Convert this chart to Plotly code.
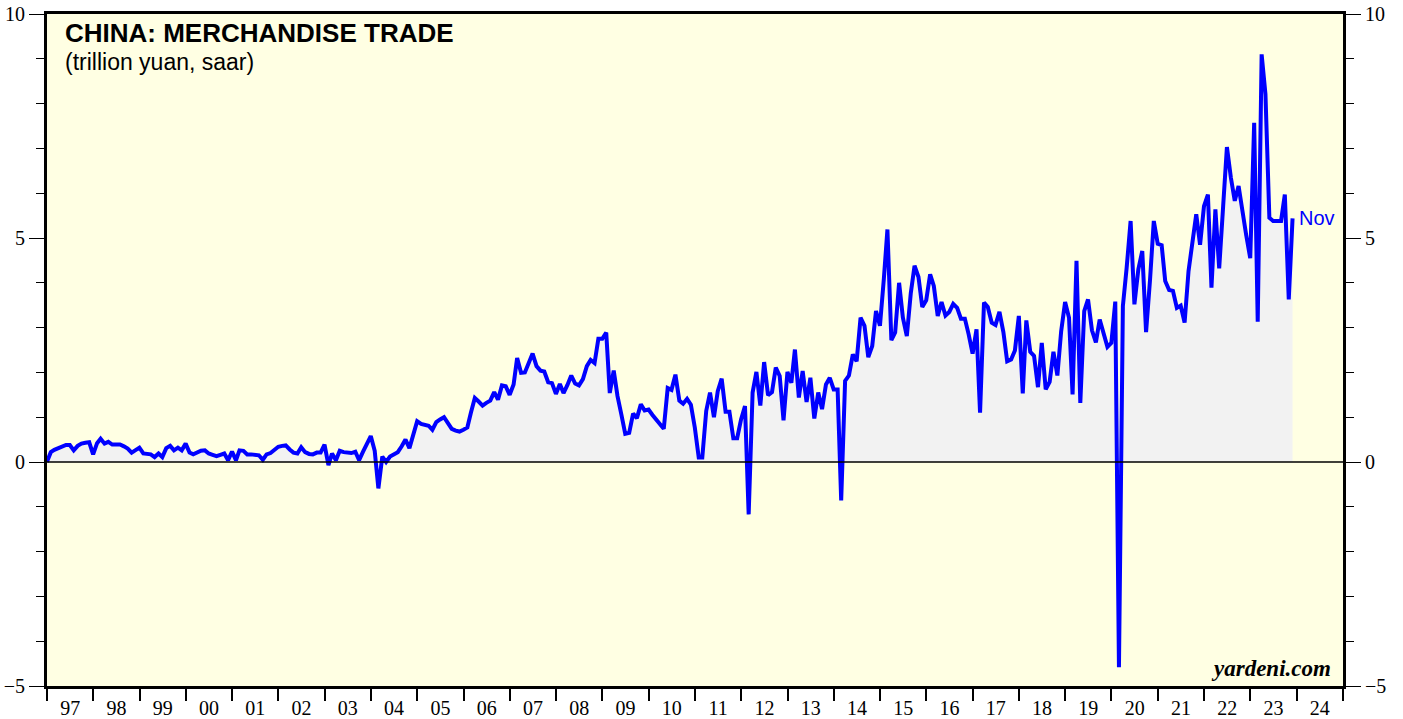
import pandas as pd
import plotly.graph_objects as go

# Monthly values (trillion yuan, saar), month-end dates Dec 1996 .. Nov 2023
trade_1996 = [0.00]
trade_1997 = [0.22, 0.27, 0.30, 0.35, 0.38, 0.38, 0.26, 0.36, 0.41, 0.43, 0.44, 0.17]
trade_1998 = [0.42, 0.52, 0.41, 0.45, 0.39, 0.39, 0.39, 0.35, 0.30, 0.21, 0.26, 0.32]
trade_1999 = [0.19, 0.18, 0.17, 0.11, 0.19, 0.11, 0.31, 0.36, 0.26, 0.32, 0.26, 0.41]
trade_2000 = [0.21, 0.17, 0.22, 0.25, 0.26, 0.19, 0.16, 0.13, 0.16, 0.19, 0.04, 0.23]
trade_2001 = [0.04, 0.26, 0.25, 0.17, 0.17, 0.17, 0.15, 0.05, 0.17, 0.20, 0.27, 0.34]
trade_2002 = [0.36, 0.37, 0.28, 0.21, 0.19, 0.33, 0.22, 0.18, 0.17, 0.21, 0.21, 0.39]
trade_2003 = [-0.07, 0.19, 0.04, 0.25, 0.22, 0.21, 0.20, 0.23, 0.04, 0.23, 0.40, 0.58]
trade_2004 = [0.25, -0.59, 0.12, 0.00, 0.12, 0.17, 0.22, 0.35, 0.50, 0.31, 0.65, 0.91]
trade_2005 = [0.85, 0.82, 0.81, 0.72, 0.89, 0.95, 1.00, 0.87, 0.74, 0.70, 0.68, 0.72]
trade_2006 = [0.77, 1.10, 1.43, 1.35, 1.26, 1.32, 1.37, 1.56, 1.39, 1.71, 1.69, 1.50]
trade_2007 = [1.73, 2.32, 1.99, 2.00, 2.20, 2.42, 2.14, 2.04, 2.02, 1.78, 1.76, 1.52]
trade_2008 = [1.74, 1.54, 1.72, 1.93, 1.75, 1.71, 1.85, 2.14, 2.28, 2.21, 2.75, 2.75]
trade_2009 = [2.89, 1.54, 2.04, 1.47, 1.05, 0.63, 0.65, 1.08, 0.98, 1.29, 1.15, 1.17]
trade_2010 = [1.05, 0.95, 0.85, 0.74, 1.65, 1.61, 1.95, 1.37, 1.30, 1.41, 1.28, 0.77]
trade_2011 = [0.10, 0.10, 1.14, 1.55, 1.00, 1.58, 1.86, 1.12, 1.12, 0.53, 0.53, 0.95]
trade_2012 = [1.25, -1.17, 1.55, 2.01, 1.26, 2.23, 1.49, 1.56, 2.11, 1.92, 0.93, 2.01]
trade_2013 = [1.77, 2.51, 1.44, 2.03, 1.34, 1.88, 0.97, 1.55, 1.18, 1.73, 1.88, 1.62]
trade_2014 = [1.62, -0.86, 1.81, 1.93, 2.40, 2.25, 3.22, 3.04, 2.34, 2.59, 3.37, 3.04]
trade_2015 = [4.10, 5.19, 2.72, 2.89, 4.00, 3.22, 2.81, 3.76, 4.38, 4.13, 3.46, 3.61]
trade_2016 = [4.19, 3.93, 3.26, 3.57, 3.27, 3.35, 3.53, 3.44, 3.20, 3.20, 2.85, 2.42]
trade_2017 = [2.96, 1.10, 3.56, 3.46, 3.11, 3.06, 3.35, 2.90, 2.25, 2.29, 2.49, 3.26]
trade_2018 = [1.53, 3.16, 2.46, 2.37, 1.67, 2.66, 1.62, 1.79, 2.46, 1.93, 2.92, 3.57]
trade_2019 = [3.22, 1.51, 4.49, 1.32, 3.37, 3.63, 2.94, 2.67, 3.18, 2.85, 2.57, 2.66]
trade_2020 = [3.58, -4.58, 3.48, 4.34, 5.38, 3.52, 4.30, 4.71, 2.90, 4.06, 5.38, 4.87]
trade_2021 = [4.84, 4.04, 3.84, 3.82, 3.44, 3.49, 3.11, 4.26, 4.86, 5.53, 4.85, 5.71]
trade_2022 = [5.97, 3.89, 5.64, 4.32, 5.70, 7.03, 6.35, 5.83, 6.16, 5.53, 5.05, 4.55]
trade_2023 = [7.57, 3.13, 9.10, 8.21, 5.45, 5.38, 5.38, 5.38, 5.97, 3.63, 5.44]

yearly_lists = [trade_1996, trade_1997, trade_1998, trade_1999, trade_2000, trade_2001,
                trade_2002, trade_2003, trade_2004, trade_2005, trade_2006, trade_2007,
                trade_2008, trade_2009, trade_2010, trade_2011, trade_2012, trade_2013,
                trade_2014, trade_2015, trade_2016, trade_2017, trade_2018, trade_2019,
                trade_2020, trade_2021, trade_2022, trade_2023]
values = [v for lst in yearly_lists for v in lst]
dates = pd.date_range("1996-12-31", periods=len(values), freq="ME")

title_text = "<b>CHINA: MERCHANDISE TRADE</b>"
subtitle_text = "(trillion yuan, saar)"
last_label = "Nov"
source_text = "<b><i>yardeni.com</i></b>"

LINE_BLUE = "#0000FF"
BG = "#FFFFE3"
FILL = "#F2F2F2"
SERIF = "Liberation Serif, Times New Roman, serif"
SANS = "Liberation Sans, Arial, sans-serif"
X_RANGE = ["1997-01-01", "2025-01-01"]

fig = go.Figure()
fig.add_trace(go.Scatter(
    x=dates, y=values, mode="lines",
    line=dict(color=LINE_BLUE, width=4),
    fill="tozeroy", fillcolor=FILL,
    showlegend=False, hoverinfo="x+y",
))
fig.add_trace(go.Scatter(x=[], y=[], yaxis="y2", showlegend=False))
fig.add_trace(go.Scatter(x=[], y=[], xaxis="x2", showlegend=False))

yaxis_common = dict(
    range=[-5, 10], tickmode="linear", tick0=-5, dtick=5,
    ticks="outside", ticklen=15, tickwidth=1, tickcolor="black",
    minor=dict(dtick=1, tick0=-5, ticks="outside", ticklen=8, tickwidth=1, tickcolor="black"),
    showline=True, linewidth=3, linecolor="black",
    showgrid=False, zeroline=False, automargin=False,
    tickfont=dict(family=SERIF, size=20, color="black"),
    fixedrange=True,
)

fig.update_layout(
    width=1403, height=719,
    margin=dict(l=47, r=60, t=14, b=33, pad=0, autoexpand=False),
    paper_bgcolor="white", plot_bgcolor=BG,
    xaxis=dict(
        type="date", range=X_RANGE,
        tick0="1997-01-01", dtick="M12", tickformat="%y", ticklabelmode="period",
        ticks="outside", ticklen=2, tickwidth=1, tickcolor="rgba(0,0,0,0)",
        showline=True, linewidth=3, linecolor="black", mirror=True,
        showgrid=False, zeroline=False, automargin=False,
        tickfont=dict(family=SERIF, size=20, color="black"),
        fixedrange=True,
    ),
    xaxis2=dict(
        type="date", range=X_RANGE, overlaying="x", side="bottom", anchor="y",
        tick0="1997-01-01", dtick="M12", showticklabels=False,
        ticks="outside", ticklen=14, tickwidth=2, tickcolor="black",
        showline=False, showgrid=False, zeroline=False, automargin=False,
        fixedrange=True,
    ),
    yaxis=dict(**yaxis_common, side="left"),
    yaxis2=dict(**yaxis_common, side="right", overlaying="y"),
    shapes=[dict(type="line", xref="paper", x0=0, x1=1, yref="y", y0=0, y1=0,
                 line=dict(color="black", width=1.5), layer="above")],
    annotations=[
        dict(text=title_text, xref="paper", yref="paper", x=0.0123, y=0.9717,
             xanchor="left", yanchor="middle", showarrow=False,
             font=dict(family=SANS, size=26, color="black")),
        dict(text=subtitle_text, xref="paper", yref="paper", x=0.0123, y=0.9286,
             xanchor="left", yanchor="middle", showarrow=False,
             font=dict(family=SANS, size=23, color="black")),
        dict(text=last_label, x=dates[-1], y=values[-1], xref="x", yref="y",
             xanchor="left", yanchor="middle", xshift=4, showarrow=False,
             font=dict(family=SANS, size=20, color=LINE_BLUE)),
        dict(text=source_text, xref="paper", yref="paper", x=0.9923, y=0.0253,
             xanchor="right", yanchor="middle", showarrow=False,
             font=dict(family=SERIF, size=23, color="black")),
    ],
)

fig.write_html(
    "out.html",
    config={"displayModeBar": False},
    post_script="document.body.style.margin='0';document.body.style.overflow='hidden';",
)
